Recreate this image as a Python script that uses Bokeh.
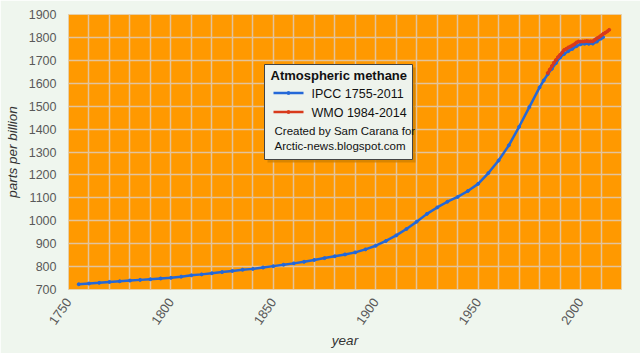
import math
from bokeh.plotting import figure
from bokeh.models import FixedTicker, Range1d, Label
from bokeh.embed import file_html
from bokeh.resources import INLINE

# ---- data ----
ipcc_years = [1755, 1760, 1765, 1770, 1775, 1780, 1785, 1790, 1795, 1800,
              1805, 1810, 1815, 1820, 1825, 1830, 1835, 1840, 1845, 1850,
              1855, 1860, 1865, 1870, 1875, 1880, 1885, 1890, 1895, 1900,
              1905, 1910, 1915, 1920, 1925, 1930, 1935, 1940, 1945, 1950,
              1955, 1960, 1965, 1970, 1975, 1980, 1982, 1984, 1986, 1988,
              1990, 1992, 1994, 1996, 1998, 2000, 2002, 2004, 2006, 2008,
              2010, 2011]
ipcc_ppb = [723, 726, 729, 733, 736, 739, 742, 745, 748, 751,
            756, 762, 766, 771, 776, 781, 786, 790, 796, 802,
            808, 814, 821, 829, 837, 845, 853, 862, 875, 891,
            912, 936, 964, 996, 1030, 1058, 1083, 1104, 1130, 1161,
            1208, 1263, 1329, 1410, 1496, 1582, 1612, 1640, 1663, 1688,
            1712, 1728, 1740, 1750, 1762, 1770, 1772, 1772, 1773, 1782,
            1795, 1801]

wmo_years = [1984, 1985, 1986, 1987, 1988, 1989, 1990, 1991, 1992, 1993,
             1994, 1995, 1996, 1997, 1998, 1999, 2000, 2001, 2002, 2003,
             2004, 2005, 2006, 2007, 2008, 2009, 2010, 2011, 2012, 2013, 2014]
wmo_ppb = [1645, 1660, 1675, 1690, 1702, 1714, 1724, 1734, 1745, 1750,
           1756, 1760, 1765, 1770, 1778, 1782, 1782, 1782, 1783, 1784,
           1783, 1783, 1783, 1790, 1796, 1801, 1808, 1815, 1820, 1826, 1833]

x_ticks = [1750, 1800, 1850, 1900, 1950, 2000]
y_ticks = list(range(700, 2000, 100))

legend_title = "Atmospheric methane"
ipcc_label = "IPCC 1755-2011"
wmo_label = "WMO 1984-2014"
credit_1 = "Created by Sam Carana for"
credit_2 = "Arctic-news.blogspot.com"

# ---- layout ----
W, H = 640, 353
L, R, T, B = 68, 621, 14, 289
X0, X1, Y0, Y1 = 1750, 2020, 700, 1900

BG = "#eff6ee"
ORANGE = "#ff9900"
GRID = "#e2c39c"
BLUE = "#2468d8"
RED = "#d83a1c"
FONT = "Liberation Sans"

p = figure(width=W, height=H, output_backend="svg", toolbar_location=None,
           x_range=Range1d(X0, X1), y_range=Range1d(Y0, Y1),
           min_border_left=L, min_border_right=W - R,
           min_border_top=T, min_border_bottom=H - B)
p.background_fill_color = ORANGE
p.border_fill_color = BG
p.outline_line_color = "#e6cfa8"
p.outline_line_width = 1

p.xaxis.ticker = FixedTicker(ticks=x_ticks)
p.yaxis.ticker = FixedTicker(ticks=y_ticks)
p.xgrid.ticker = FixedTicker(ticks=list(range(1760, 2020, 10)))
p.ygrid.ticker = FixedTicker(ticks=list(range(800, 1900, 100)))
for g in (p.xgrid, p.ygrid):
    g.grid_line_color = GRID
    g.grid_line_width = 1.5

for ax in (p.xaxis, p.yaxis):
    ax.axis_line_color = None
    ax.major_tick_line_color = None
    ax.minor_tick_line_color = None
    ax.major_tick_out = 0
    ax.major_tick_in = 0
    ax.major_label_text_font = FONT
    ax.major_label_text_font_size = "12.5px"
    ax.major_label_text_color = "#595959"
    ax.axis_label_text_font = FONT
    ax.axis_label_text_font_size = "13.5px"
    ax.axis_label_text_font_style = "italic"
    ax.axis_label_text_color = "#333333"

p.yaxis.major_label_standoff = 12
p.yaxis.axis_label = "parts per billion"
p.yaxis.axis_label_standoff = 6
p.xaxis.major_label_text_font_size = "13px"
p.xaxis.major_label_orientation = 0.96
p.xaxis.major_label_standoff = 10
p.xaxis.axis_label = "year"
p.xaxis.axis_label_standoff = 2

# ---- series ----
p.line(ipcc_years, ipcc_ppb, line_color=BLUE, line_width=2.5)
p.scatter(ipcc_years, ipcc_ppb, size=3, color=BLUE)
p.line(wmo_years, wmo_ppb, line_color=RED, line_width=2.5)
p.scatter(wmo_years, wmo_ppb, size=3, color=RED)

# ---- legend box (screen px -> data) ----
def dx(px):
    return X0 + (px - L) / (R - L) * (X1 - X0)

def dy(py):
    return Y0 + (B - py) / (B - T) * (Y1 - Y0)

p.quad(left=[dx(267)], right=[dx(415)], top=[dy(67)], bottom=[dy(162)],
       fill_color="#cf7f00", fill_alpha=0.8, line_color=None)
p.quad(left=[dx(264)], right=[dx(412)], top=[dy(64)], bottom=[dy(159)],
       fill_color="#eef3ec", fill_alpha=1.0, line_color="#444444", line_width=1)

p.line([dx(273), dx(303)], [dy(92.5), dy(92.5)], line_color=BLUE, line_width=2.5)
p.scatter([dx(288)], [dy(92.5)], size=3, color=BLUE)
p.line([dx(273), dx(303)], [dy(111.5), dy(111.5)], line_color=RED, line_width=2.5)
p.scatter([dx(288)], [dy(111.5)], size=3, color=RED)

def lab(txt, px, py, size, style="normal"):
    p.add_layout(Label(x=dx(px), y=dy(py), text=txt, text_font=FONT,
                       text_font_size=size, text_font_style=style,
                       text_color="#111111", text_baseline="middle",
                       text_align="left"))

lab(legend_title, 270, 75, "13px", "bold")
lab(ipcc_label, 311, 93, "12.5px")
lab(wmo_label, 311, 112, "12.5px")
lab(credit_1, 274, 130, "11.5px")
lab(credit_2, 274, 145, "11.5px")

open("out.html", "w").write(file_html(p, INLINE))
